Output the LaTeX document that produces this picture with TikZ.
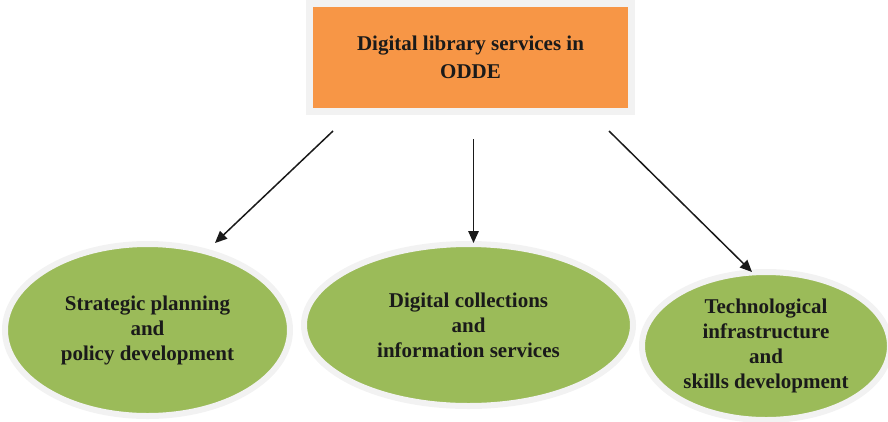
\documentclass[tikz,border=0pt]{standalone}
\usepackage{fontspec}
\setmainfont{Liberation Serif}
\usetikzlibrary{shapes.geometric,arrows.meta}
\definecolor{boxorange}{HTML}{F79646}
\definecolor{leafgreen}{HTML}{9BBB59}
\definecolor{rimgray}{HTML}{F2F2F2}
\definecolor{inkblack}{HTML}{1A1A1A}
\begin{document}
\begin{tikzpicture}[x=1pt,y=-1pt,
  topbox/.style={rectangle, fill=boxorange, draw=rimgray, line width=7pt,
    minimum width=322pt, minimum height=108pt, inner sep=0pt, align=center,
    text=inkblack, font=\fontsize{21}{28}\selectfont\bfseries},
  leaf/.style={ellipse, fill=leafgreen, draw=rimgray, line width=6pt,
    inner sep=0pt, align=center, text=inkblack,
    font=\fontsize{21}{25}\selectfont\bfseries},
  link/.style={draw=inkblack, line width=1.5pt, -{Triangle[length=12pt,width=10.5pt]}}
]
\useasboundingbox (0,0) rectangle (888,421);
\node[topbox] (top) at (470.5,57.5) {Digital library services in\\ODDE};
\node[leaf, minimum width=285pt, minimum height=172pt] (e1) at (147.5,330)
  {Strategic planning\\and\\policy development};
\node[leaf, minimum width=329pt, minimum height=162pt] (e2) at (468.5,325)
  {Digital collections\\and\\information services};
\node[leaf, minimum width=248pt, minimum height=148pt] (e3) at (766,346)
  {Technological\\infrastructure\\and\\skills development};
\coordinate (s1) at (333,131);
\coordinate (t1) at (215,243);
\coordinate (s2) at (473.5,139);
\coordinate (t2) at (473.5,243);
\coordinate (s3) at (609,131);
\coordinate (t3) at (752,272);
\draw[link] (s1) -- (t1);
\draw[link] (s2) -- (t2);
\draw[link] (s3) -- (t3);
\end{tikzpicture}
\end{document}
